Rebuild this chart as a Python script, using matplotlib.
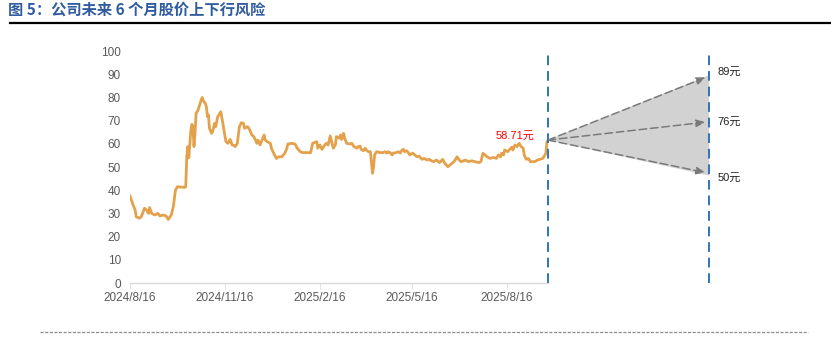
import matplotlib
matplotlib.use("Agg")
import matplotlib.pyplot as plt
import matplotlib.dates as mdates
from matplotlib.lines import Line2D
import pandas as pd

plt.rcParams['font.family'] = ['Liberation Sans', 'Noto Sans CJK SC', 'DejaVu Sans']

title = "图 5：公司未来 6 个月股价上下行风险"

price_dates = [
    "2024-08-16", "2024-08-19", "2024-08-21", "2024-08-22", "2024-08-25", "2024-08-27", "2024-08-30",
    "2024-09-01", "2024-09-03", "2024-09-04", "2024-09-06", "2024-09-09", "2024-09-12", "2024-09-14",
    "2024-09-17", "2024-09-20", "2024-09-22", "2024-09-25", "2024-09-27", "2024-09-29",
    "2024-10-01", "2024-10-08", "2024-10-09", "2024-10-10", "2024-10-11", "2024-10-12", "2024-10-13",
    "2024-10-14", "2024-10-15", "2024-10-16", "2024-10-17", "2024-10-18", "2024-10-19", "2024-10-21",
    "2024-10-22", "2024-10-23", "2024-10-24", "2024-10-25", "2024-10-26", "2024-10-28", "2024-10-29",
    "2024-10-30", "2024-10-31",
    "2024-11-01", "2024-11-03", "2024-11-04", "2024-11-06", "2024-11-07", "2024-11-09", "2024-11-11",
    "2024-11-12", "2024-11-14", "2024-11-15", "2024-11-17", "2024-11-19", "2024-11-21", "2024-11-23",
    "2024-11-25", "2024-11-26", "2024-11-28", "2024-11-30",
    "2024-12-02", "2024-12-04", "2024-12-05", "2024-12-08", "2024-12-10", "2024-12-12", "2024-12-14",
    "2024-12-17", "2024-12-18", "2024-12-20", "2024-12-22", "2024-12-24", "2024-12-25", "2024-12-27",
    "2024-12-30", "2024-12-31",
    "2025-01-03", "2025-01-05", "2025-01-07", "2025-01-10", "2025-01-13", "2025-01-15", "2025-01-16",
    "2025-01-20", "2025-01-23", "2025-01-25", "2025-01-28", "2025-01-30",
    "2025-02-07", "2025-02-09", "2025-02-11", "2025-02-13", "2025-02-14", "2025-02-16", "2025-02-18",
    "2025-02-20", "2025-02-22", "2025-02-24", "2025-02-26", "2025-02-27",
    "2025-03-01", "2025-03-03", "2025-03-04", "2025-03-07", "2025-03-08", "2025-03-09", "2025-03-11",
    "2025-03-12", "2025-03-14", "2025-03-17", "2025-03-19", "2025-03-21", "2025-03-24", "2025-03-25",
    "2025-03-27", "2025-03-28", "2025-03-30",
    "2025-04-01", "2025-04-02", "2025-04-04", "2025-04-06", "2025-04-07", "2025-04-08", "2025-04-09",
    "2025-04-10", "2025-04-12", "2025-04-15", "2025-04-18", "2025-04-20", "2025-04-22", "2025-04-23",
    "2025-04-25", "2025-04-27", "2025-04-28",
    "2025-05-01", "2025-05-03", "2025-05-05", "2025-05-06", "2025-05-08", "2025-05-09", "2025-05-11",
    "2025-05-13", "2025-05-14", "2025-05-17", "2025-05-19", "2025-05-21", "2025-05-23", "2025-05-26",
    "2025-05-28", "2025-05-31",
    "2025-06-02", "2025-06-04", "2025-06-06", "2025-06-09", "2025-06-12", "2025-06-15", "2025-06-17",
    "2025-06-20", "2025-06-24", "2025-06-26", "2025-06-29",
    "2025-07-01", "2025-07-03", "2025-07-07", "2025-07-10", "2025-07-13", "2025-07-16", "2025-07-20",
    "2025-07-22", "2025-07-24", "2025-07-26", "2025-07-28", "2025-07-31",
    "2025-08-03", "2025-08-06", "2025-08-08", "2025-08-10", "2025-08-11", "2025-08-13", "2025-08-14",
    "2025-08-17", "2025-08-19", "2025-08-21", "2025-08-22", "2025-08-24", "2025-08-26", "2025-08-28",
    "2025-08-30",
    "2025-09-01", "2025-09-02", "2025-09-04", "2025-09-06", "2025-09-08", "2025-09-12", "2025-09-15",
    "2025-09-17", "2025-09-20", "2025-09-22", "2025-09-23", "2025-09-24", "2025-09-25",
]

price_values = [
    37.5, 33.6, 31.5, 28.6, 27.9, 28.6, 32.2,
    31.5, 30.0, 32.5, 30.0, 29.3, 30.0, 28.9,
    29.3, 28.9, 27.4, 29.3, 32.9, 40.0,
    41.5, 41.2, 41.5, 54.4, 58.8, 54.0, 60.2,
    66.0, 68.4, 67.4, 58.8, 64.5, 73.1, 74.6,
    76.0, 77.4, 78.9, 80.0, 78.6, 77.4, 76.0,
    71.7, 72.4,
    66.7, 64.5, 65.2, 68.8, 67.4, 71.7, 73.1,
    73.8, 68.8, 66.0, 60.9, 60.2, 61.9, 59.5,
    59.2, 58.8, 60.2, 67.4,
    69.1, 68.8, 66.7, 67.4, 66.0, 63.8, 63.1,
    60.2, 61.6, 59.5, 61.6, 63.8, 61.6, 60.9,
    60.2, 58.1,
    55.2, 53.7, 54.4, 54.4, 55.9, 58.1, 59.9,
    60.2, 59.9, 58.1, 56.6, 56.2,
    56.2, 60.2, 60.6, 60.9, 58.1, 59.5, 57.6,
    59.0, 60.2, 59.5, 63.4, 61.6,
    58.1, 59.5, 63.1, 62.4, 63.8, 61.9, 64.5,
    62.4, 60.2, 59.9, 60.2, 58.8, 58.1, 58.8,
    59.0, 57.6, 57.0,
    58.1, 57.3, 56.6, 56.6, 51.6, 47.3, 50.1,
    55.2, 56.6, 56.2, 56.2, 56.6, 56.0, 56.6,
    56.2, 55.2, 56.0,
    56.2, 56.6, 56.0, 57.0, 57.6, 56.6, 57.0,
    56.0, 55.2, 56.0, 55.2, 54.4, 54.7, 53.3,
    53.7, 53.0,
    53.3, 52.7, 52.3, 53.0, 51.9, 53.3, 51.6,
    50.1, 51.6, 52.3, 54.4,
    53.0, 52.3, 53.0, 52.3, 52.7, 52.3, 51.9,
    52.3, 55.9, 55.2, 54.4, 53.7,
    54.1, 53.7, 55.2, 54.4, 55.9, 55.2, 57.3,
    56.6, 57.6, 58.5, 57.3, 59.5, 58.8, 60.2,
    58.8,
    58.1, 55.2, 53.3, 53.7, 52.3, 52.3, 53.0,
    53.3, 53.7, 55.2, 55.9, 60.9, 61.6,
]

current_price_label = "58.71元"
xtick_dates = ["2024-08-16", "2024-11-16", "2025-02-16", "2025-05-16", "2025-08-16"]
xtick_labels = ["2024/8/16", "2024/11/16", "2025/2/16", "2025/5/16", "2025/8/16"]
yticks = [0, 10, 20, 30, 40, 50, 60, 70, 80, 90, 100]

proj_end_date = "2026-02-28"
proj_tip_values = [89.2, 69.5, 47.3]
proj_fill_values = [89.6, 46.3]
proj_labels = ["89元", "76元", "50元"]

# ---------------------------------------------------------------
W, H = 831, 355
fig = plt.figure(figsize=(W / 100, H / 100), dpi=100)

dates = pd.to_datetime(price_dates)
start = dates[0]
end_proj = pd.Timestamp(proj_end_date)
last = dates[-1]

px_per_day = 1.032
ax_left_px, ax_right_px = 130, 760
ax_bot_px, ax_top_px = 283, 51
ax = fig.add_axes([ax_left_px / W, (H - ax_bot_px) / H,
                   (ax_right_px - ax_left_px) / W, (ax_bot_px - ax_top_px) / H])
x0 = mdates.date2num(start)
ax.set_xlim(x0, x0 + (ax_right_px - ax_left_px) / px_per_day)
ax.set_ylim(0, 100)

orange = '#E4A14B'
gray_txt = '#595959'

# projection cone
ax.fill([last, end_proj, end_proj], [price_values[-1], proj_fill_values[0], proj_fill_values[1]],
        color='#D2D2D2', zorder=1, lw=0)
for tv in proj_tip_values:
    ax.annotate('', xy=(end_proj, tv), xytext=(last, price_values[-1]),
                arrowprops=dict(arrowstyle='-|>,head_length=0.55,head_width=0.22',
                                color='#7A7A7A', lw=1.1, linestyle=(0, (5, 2.5)),
                                shrinkA=0, shrinkB=2.5),
                zorder=3)

label_offsets = [3, 0, -3]
for tv, lab, off in zip(proj_tip_values, proj_labels, label_offsets):
    ax.annotate(lab, xy=(end_proj, tv), xytext=(6, off), textcoords='offset points',
                ha='left', va='center', fontsize=8, color='#222222', annotation_clip=False)

# price line
ax.plot(dates, price_values, color=orange, lw=2.0, zorder=4, solid_joinstyle='round')

# vertical dashed lines
for d in [last, end_proj]:
    ax.axvline(d, color='#2E75B6', lw=1.4, linestyle=(0, (5, 3)), zorder=5)

ax.annotate(current_price_label, xy=(last, price_values[-1]), xytext=(-10, 3),
            textcoords='offset points', ha='right', va='center', color='#FF0000', fontsize=8)

# axes styling
for s in ['left', 'right', 'top']:
    ax.spines[s].set_visible(False)
ax.spines['bottom'].set_color('#D9D9D9')
ax.spines['bottom'].set_linewidth(1.0)
ax.spines['bottom'].set_bounds(x0, mdates.date2num(last))

ax.set_yticks(yticks)
ax.set_yticklabels([str(v) for v in yticks])
ax.tick_params(axis='y', length=0, pad=6.5, labelsize=8.5, labelcolor=gray_txt)
ax.set_xticks(pd.to_datetime(xtick_dates))
ax.set_xticklabels(xtick_labels)
ax.tick_params(axis='x', length=4, width=0.8, color='#E3E3E3', pad=2.5,
               labelsize=8.5, labelcolor=gray_txt)

# title & decorations
fig.text(8 / W, 1 - 10 / H, title, ha='left', va='center', fontsize=11, fontweight='bold',
         color='#2F5B9F', family=['Noto Sans CJK SC', 'DejaVu Sans'])
fig.add_artist(Line2D([10 / W, 1.0], [1 - 22.7 / H] * 2, color='black', lw=1.6,
                      transform=fig.transFigure))
fig.add_artist(Line2D([40 / W, 808 / W], [1 - 332 / H] * 2, color='#8C8C8C', lw=0.9,
                      linestyle=(0, (2.5, 1.2)), transform=fig.transFigure))

fig.savefig('out.png', dpi=100)
